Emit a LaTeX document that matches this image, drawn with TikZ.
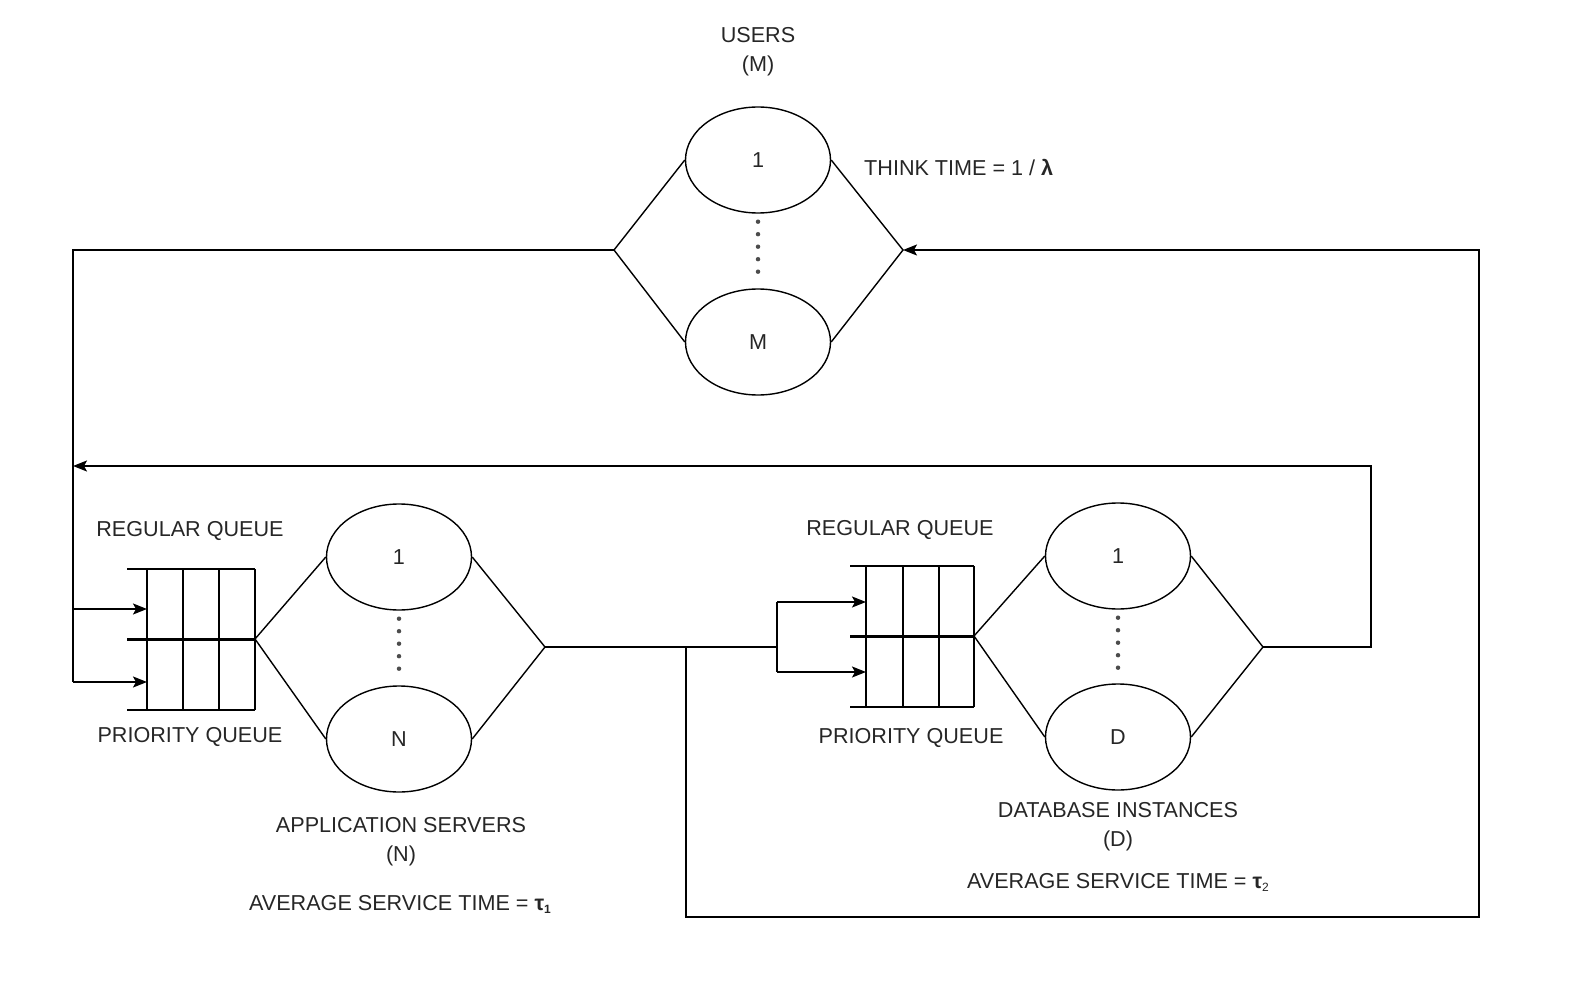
\documentclass[tikz,border=0pt]{standalone}
\usepackage{fontspec}
\setmainfont{Liberation Sans}
\usetikzlibrary{shapes.geometric,arrows.meta}
\begin{document}
\begin{tikzpicture}[x=1pt,y=-1pt,
  every node/.style={font=\fontsize{21.6}{29}\selectfont, text=black!85},
  srv/.style={draw, ellipse, minimum width=145pt, minimum height=106pt, inner sep=0pt, line width=1.4pt, text=black!85},
  ln/.style={line width=1.4pt, draw=black},
  thickln/.style={line width=3pt, draw=black},
  arr/.style={ln, -{Stealth[length=14pt,width=11pt,inset=3pt]}},
  dots/.style={line width=4.5pt, line cap=round, dash pattern=on 0pt off 12.5pt, draw=black!70},
  lbl/.style={align=center, inner sep=0pt}
]
\useasboundingbox (0,0) rectangle (1574,984);

% ---------- USERS ----------
\node[srv] (u1) at (758,160) {1};
\node[srv] (uM) at (758,342) {M};
\coordinate (uL) at (614,250);
\coordinate (uR) at (903,250);
\draw[ln] (u1.west) -- (uL) -- (uM.west);
\draw[ln] (u1.east) -- (uR) -- (uM.east);
\draw[dots] ([yshift=-8pt]u1.south) -- ([yshift=12pt]uM.north);
\node[lbl] (usr) at (758,52) {USERS\\(M)};
\node[lbl, anchor=west] (think) at (864,168) {THINK TIME = 1 / \textbf{λ}};

% ---------- APPLICATION SERVERS ----------
\draw[ln] (127,569) -- (255,569);
\draw[ln] (127,710) -- (255,710);
\draw[thickln] (127,639) -- (255,639);
\foreach \x in {147,183,219,255} \draw[ln] (\x,569) -- (\x,710);
\coordinate (lqR) at (255,639);
\coordinate (lqIn1) at (147,609);
\coordinate (lqIn2) at (147,682);

\node[srv] (a1) at (399,557) {1};
\node[srv] (aN) at (399,739) {N};
\coordinate (aR) at (545,647);
\draw[ln] (a1.west) -- (lqR) -- (aN.west);
\draw[ln] (a1.east) -- (aR) -- (aN.east);
\draw[dots] ([yshift=-8pt]a1.south) -- ([yshift=12pt]aN.north);

\node[lbl] (lreg) at (190,531) {REGULAR QUEUE};
\node[lbl] (lpri) at (190,737) {PRIORITY QUEUE};
\node[lbl] (appl) at (401,842) {APPLICATION SERVERS\\(N)};
\node[lbl] (ast) at (400,904) {AVERAGE SERVICE TIME = \textbf{τ}{\fontsize{12}{12}\selectfont\raisebox{-3pt}{\textbf{1}}}};

% ---------- DATABASE INSTANCES ----------
\draw[ln] (850,566) -- (974,566);
\draw[ln] (850,707) -- (974,707);
\draw[thickln] (850,636) -- (974,636);
\foreach \x in {866,903,939,974} \draw[ln] (\x,566) -- (\x,707);
\coordinate (rqR) at (974,636);
\coordinate (rqIn1) at (866,602);
\coordinate (rqIn2) at (866,672);

\node[srv] (d1) at (1118,556) {1};
\node[srv] (dD) at (1118,737) {D};
\coordinate (dR) at (1263,647);
\draw[ln] (d1.west) -- (rqR) -- (dD.west);
\draw[ln] (d1.east) -- (dR) -- (dD.east);
\draw[dots] ([yshift=-8pt]d1.south) -- ([yshift=12pt]dD.north);

\node[lbl] (rreg) at (900,530) {REGULAR QUEUE};
\node[lbl] (rpri) at (911,738) {PRIORITY QUEUE};
\node[lbl] (dbi) at (1118,827) {DATABASE INSTANCES\\(D)};
\node[lbl] (dst) at (1118,882) {AVERAGE SERVICE TIME = \textbf{τ}{\fontsize{12}{12}\selectfont\raisebox{-3pt}{2}}};

% ---------- CONNECTORS ----------
\coordinate (lx) at (73,250);
\coordinate (lb) at (73,682);
\coordinate (lm) at (73,609);
\coordinate (lfb) at (73,466);
\draw[ln] (uL) -- (lx) -- (lb);
\draw[arr] (lb) -- (lqIn2);
\draw[arr] (lm) -- (lqIn1);

\coordinate (br) at (777,647);
\coordinate (brT) at (777,602);
\coordinate (brB) at (777,672);
\coordinate (jn) at (686,647);
\draw[ln] (aR) -- (br);
\draw[ln] (brT) -- (brB);
\draw[arr] (brT) -- (rqIn1);
\draw[arr] (brB) -- (rqIn2);

\coordinate (c1) at (686,917);
\coordinate (c2) at (1479,917);
\coordinate (c3) at (1479,250);
\draw[arr] (jn) -- (c1) -- (c2) -- (c3) -- (uR);

\coordinate (e1) at (1371,647);
\coordinate (e2) at (1371,466);
\draw[arr] (dR) -- (e1) -- (e2) -- (lfb);
\end{tikzpicture}
\end{document}
